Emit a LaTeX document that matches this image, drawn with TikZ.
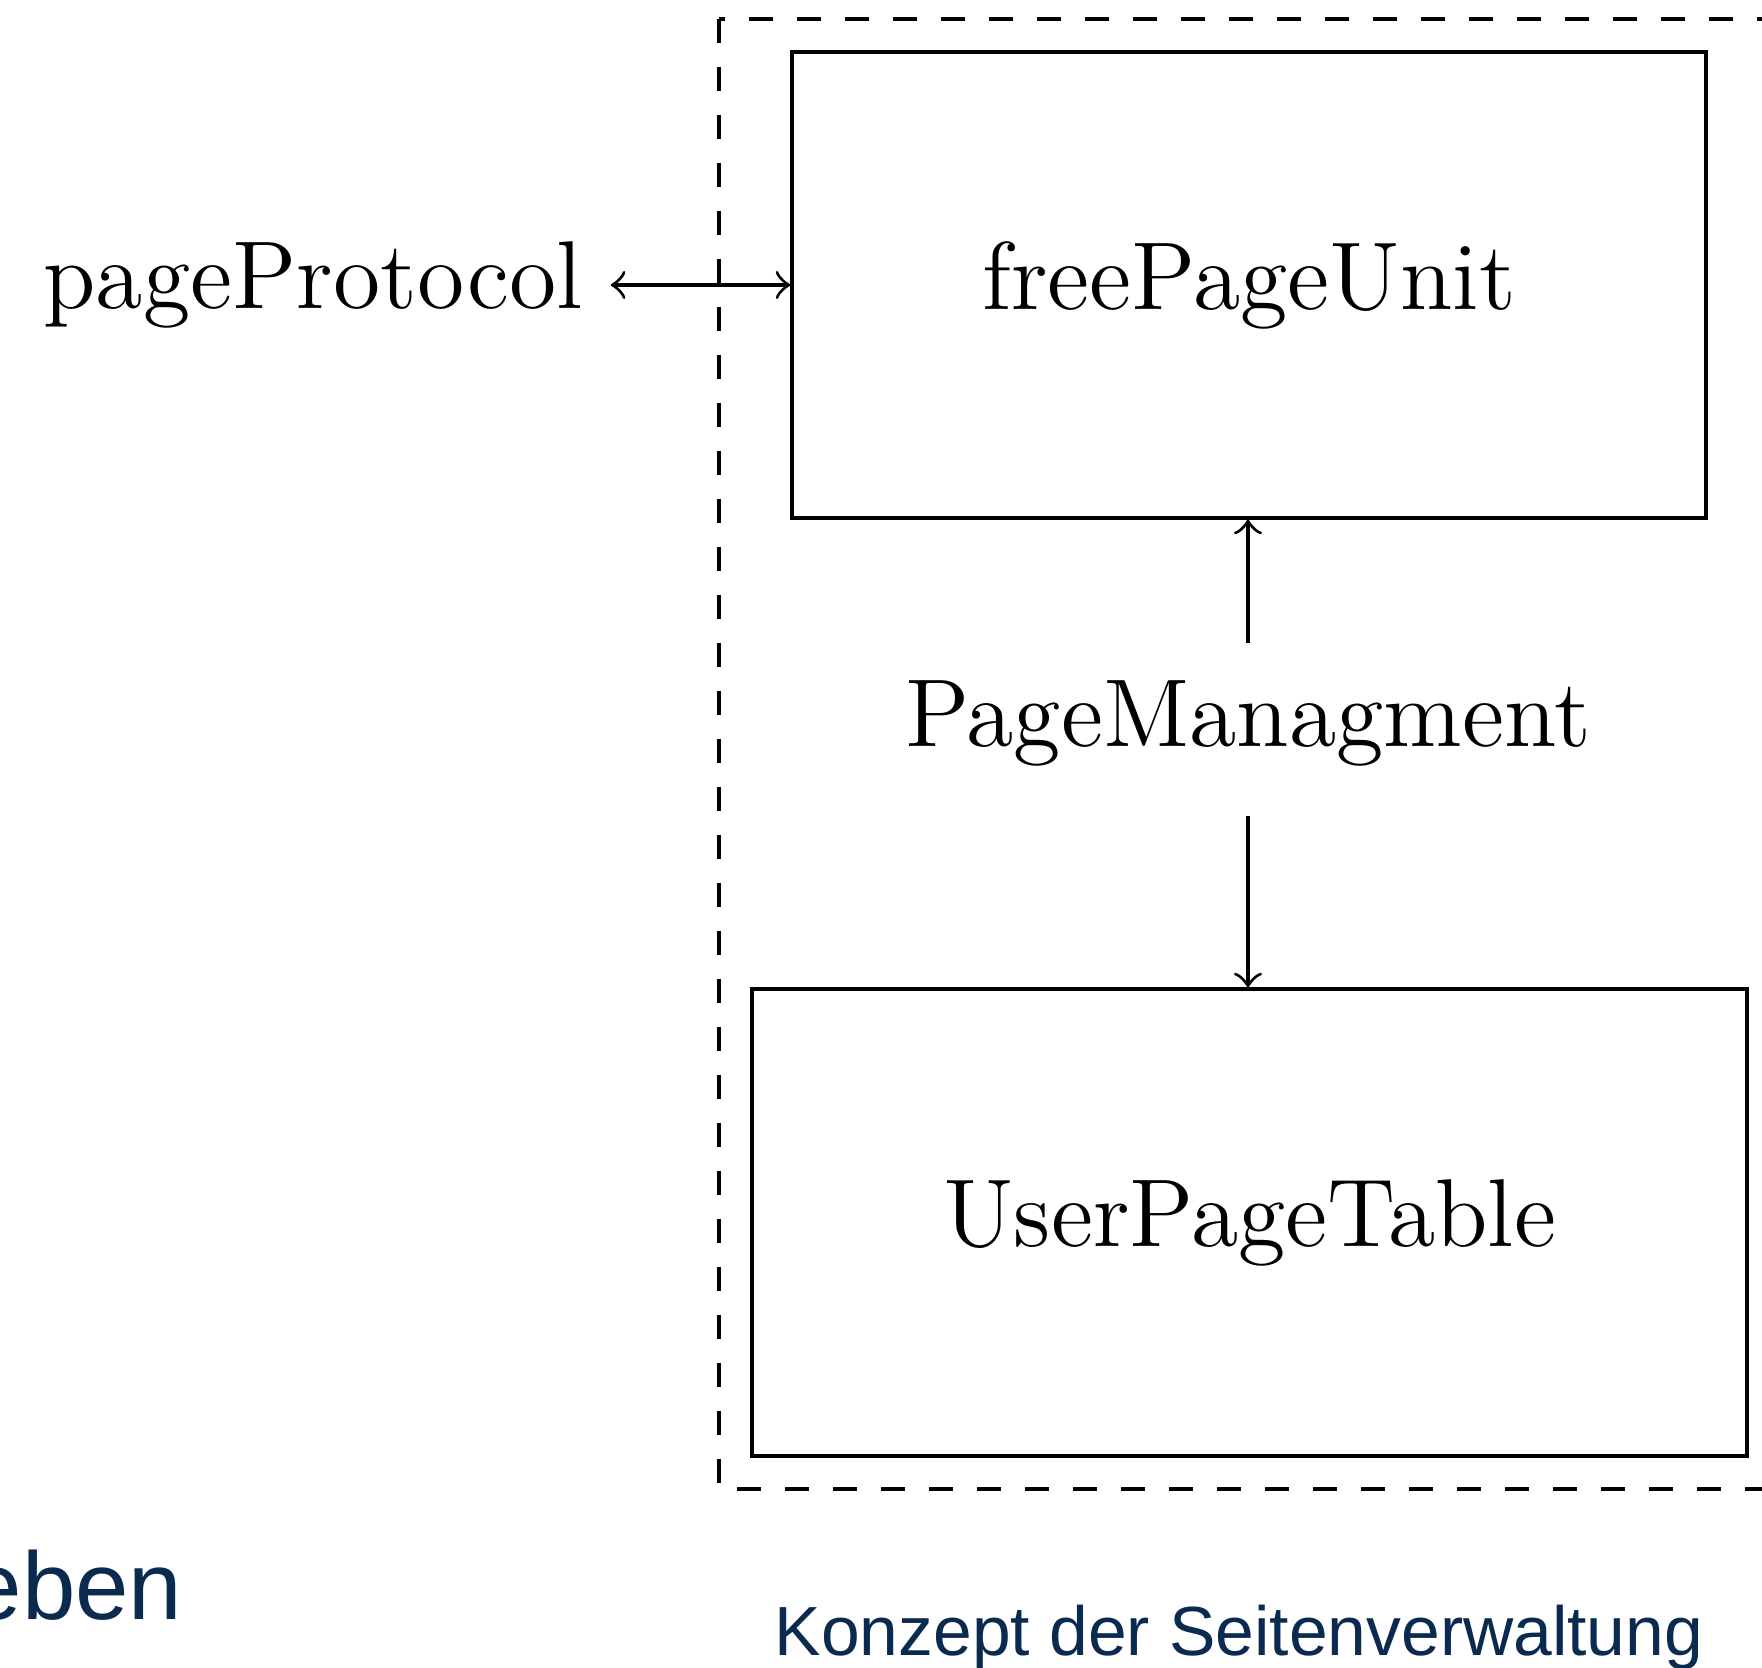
\documentclass[tikz,border=0pt]{standalone}
\usepackage{fontspec}
\newfontfamily\captionfont{Liberation Sans}
\definecolor{navy}{HTML}{0B2A50}
\begin{document}
\begin{tikzpicture}[x=0.125pt,y=-0.125pt,
  bigtext/.style={font=\fontsize{12.05pt}{14pt}\selectfont},
  unitbox/.style={draw,rectangle,bigtext,inner sep=0pt},
  caption/.style={text=navy,inner sep=0pt,anchor=base},
  conn/.style={line width=0.4pt}]
\useasboundingbox (0,0) rectangle (1762,1668);
\draw[dashed] (719,19) rectangle (1820,1489);
\node[unitbox,minimum width=914*0.125pt,minimum height=466*0.125pt] (fpu) at (1249,285) {freePageUnit};
\node[unitbox,minimum width=995*0.125pt,minimum height=467*0.125pt] (upt) at (1249.5,1222.5) {UserPageTable};
\node[bigtext] (pp) at (313,285) {pageProtocol};
\node[bigtext,anchor=base] (pm) at (1248,747) {PageManagment};
\coordinate (pmtop) at ([yshift=1.2pt]pm.north);
\draw[conn,<->] (pp) -- (fpu);
\draw[conn,->] (pmtop) -- (pmtop |- fpu.south);
\draw[conn,->,shorten <=21*0.125pt] (pm.south) -- (pm.south |- upt.north);
\node[caption,anchor=base east,font=\captionfont\fontsize{12pt}{14pt}\selectfont] (eb) at (184,1620) {eben};
\node[caption,font=\captionfont\fontsize{8.7pt}{10pt}\selectfont] (kz) at (1239,1656) {Konzept der Seitenverwaltung};
\end{tikzpicture}
\end{document}
